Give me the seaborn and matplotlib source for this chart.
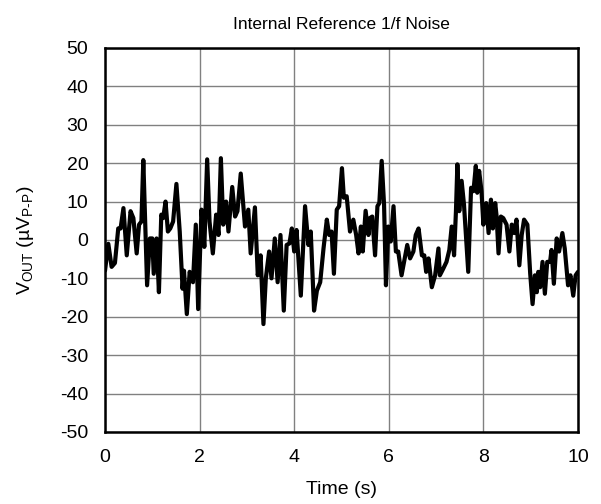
import matplotlib
matplotlib.use("Agg")
import matplotlib.pyplot as plt
import seaborn as sns
import pandas as pd

time_s = [0.00, 0.07, 0.14, 0.21, 0.28, 0.33, 0.39, 0.46, 0.54, 0.60, 0.67, 0.72, 0.77, 0.81, 0.89,
          0.95, 1.00, 1.03, 1.09, 1.14, 1.19, 1.23, 1.28, 1.33, 1.38, 1.44, 1.51, 1.58, 1.64, 1.67,
          1.73, 1.79, 1.86, 1.92, 1.97, 2.04, 2.10, 2.16, 2.21, 2.28, 2.35, 2.40, 2.45, 2.50, 2.56,
          2.61, 2.69, 2.75, 2.80, 2.87, 2.96, 3.03, 3.08, 3.17, 3.23, 3.29, 3.35, 3.40, 3.47, 3.52,
          3.59, 3.65, 3.71, 3.78, 3.84, 3.90, 3.95, 4.00, 4.05, 4.14, 4.23, 4.30, 4.35, 4.42, 4.48,
          4.55, 4.62, 4.69, 4.74, 4.79, 4.84, 4.90, 4.95, 5.01, 5.05, 5.11, 5.18, 5.25, 5.31, 5.36,
          5.41, 5.45, 5.51, 5.57, 5.60, 5.65, 5.71, 5.76, 5.80, 5.85, 5.90, 5.94, 5.99, 6.04, 6.10,
          6.15, 6.20, 6.27, 6.35, 6.39, 6.45, 6.52, 6.57, 6.63, 6.70, 6.75, 6.79, 6.84, 6.91, 6.98,
          7.05, 7.08, 7.15, 7.22, 7.28, 7.33, 7.38, 7.42, 7.45, 7.49, 7.54, 7.59, 7.68, 7.74, 7.79,
          7.84, 7.87, 7.91, 7.96, 8.00, 8.06, 8.11, 8.16, 8.20, 8.25, 8.28, 8.32, 8.37, 8.42, 8.49,
          8.55, 8.60, 8.65, 8.70, 8.76, 8.81, 8.86, 8.93, 8.99, 9.04, 9.09, 9.13, 9.16, 9.20, 9.25,
          9.30, 9.35, 9.41, 9.44, 9.49, 9.55, 9.60, 9.67, 9.72, 9.79, 9.84, 9.90, 9.95, 10.00]
vout_uv = [-8, -1, -7, -6, 3, 3, 8.3, -4, 7.5, 5.7, -3.5, 4, 4.8, 20.8, -11.8,
           0.4, 0.4, -8.8, 0.4, -13.6, 6.6, 5.7, 10, 2.2, 3, 4.8, 14.6, 2.2, -12.7, -8,
           -19.3, -8.3, -11, 4, -18, 7.9, -1.8, 21, 4.8, -3.5, 6.6, 1.3, 21.3, 4, 10,
           2.2, 13.8, 6.1, 7.5, 17.3, 3.5, 7.9, -3.5, 8.5, -9.2, -4, -21.9, -10, -3, -10,
           0.4, -11, 1.3, -18.4, -1.3, -0.9, 3, -3, 2.6, -14.5, 8.8, -1.3, 2.2, -18.4, -13.2,
           -11, -2.2, 5.3, 1.3, 2.2, -8.8, 7.9, 8.8, 18.7, 11, 11.4, 2.2, 5.3, 1.3, -3.5,
           3.5, -3, 7.6, 1.3, 5.7, 6.1, -4, 8.8, 9.6, 20.6, 9.2, -11.8, 3.5, -0.4, 8.8,
           -3, -3, -9.2, -4, -1.3, -4.8, -3, 1.3, 3, -4, -4, -8.3, -4.8, -12.3, -9.2,
           -2.2, -9.2, -7.5, -5.7, -2.6, 3.5, -4, 7.5, 19.7, 7.5, 15.4, 9.2, -8.3, 13.6, 12.7,
           19.3, 12.3, 18, 12.7, 4, 9.6, 1.8, 10.5, 3, 9.6, 6.1, -3.5, 6.1, 5.7, 4,
           -3, 4, 1.8, 5.3, -6.6, 1.3, 5.3, 4, -8.8, -16.7, -9.2, -13.6, -8.3, -12.3, -5.7,
           -14, -5.7, -5.7, -2.6, -11.4, 0.4, -3, 1.8, -2.2, -11.8, -9.2, -14.5, -9.2, -8.3]

x_ticks = [0, 2, 4, 6, 8, 10]
y_ticks = [-50, -40, -30, -20, -10, 0, 10, 20, 30, 40, 50]

sns.set_theme(style="white")
plt.rcParams['font.family'] = ['Liberation Sans', 'DejaVu Sans']
plt.rcParams['mathtext.fontset'] = 'custom'
plt.rcParams['mathtext.rm'] = 'Liberation Sans'
plt.rcParams['mathtext.it'] = 'Liberation Sans'
plt.rcParams['axes.unicode_minus'] = False

df = pd.DataFrame({"t": time_s, "v": vout_uv})

fig = plt.figure(figsize=(6.01, 5.04), dpi=100)
ax = fig.add_axes([0.1747, 0.1429, 0.787, 0.7619])
sns.lineplot(data=df, x="t", y="v", ax=ax, color="black", linewidth=3.0, sort=False, zorder=3)

ax.set_xlim(0, 10)
ax.set_ylim(-50, 50)
ax.set_xticks(x_ticks)
ax.set_yticks(y_ticks)
ax.grid(True, color="#808080", linewidth=1.0)
ax.tick_params(axis="both", length=0, labelsize=14, colors="black", pad=12)
for s in ax.spines.values():
    s.set_color("black")
    s.set_linewidth(1.8)
    s.set_zorder(4)
ax.set_xlabel("Time (s)", fontsize=14, color="black", labelpad=11)
ax.set_ylabel(r"V$_{\mathrm{OUT}}$ (µV$_{\mathrm{P\text{-}P}}$)", fontsize=14, color="black", labelpad=17)
ax.set_title("Internal Reference 1/f Noise", fontsize=12.5, color="black", pad=14)

fig.savefig("out.png", dpi=100)
